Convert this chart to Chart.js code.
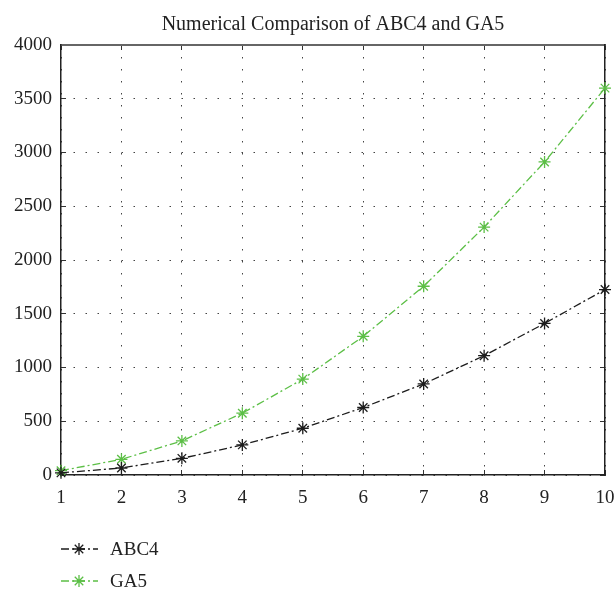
<!DOCTYPE html>
<html>
<head>
<meta charset="utf-8">
<script src="https://cdn.jsdelivr.net/npm/chart.js@4/dist/chart.umd.min.js"></script>
<style>
  html, body { margin: 0; padding: 0; background: #fff; }
  #c { display: block; }
</style>
</head>
<body>
<canvas id="c" width="616" height="594"></canvas>
<script>
// data
const xValues = [1, 2, 3, 4, 5, 6, 7, 8, 9, 10];
const abc4 = [20, 65, 155, 280, 435, 628, 847, 1110, 1410, 1725];
const ga5 = [40, 146, 317, 575, 892, 1290, 1756, 2306, 2912, 3599];
const seriesNames = ["ABC4", "GA5"];
const titleText = "Numerical Comparison of ABC4 and GA5";

const FONT = "'Liberation Serif', 'DejaVu Serif', serif";
const BLACK = "#1c1c1c";
const GREEN = "#5cbf46";
const DASH = [8, 3, 2, 3];

const toPoints = ys => ys.map((y, i) => ({ x: xValues[i], y: y }));

// legend drawn under the plot, stacked like the original
const stackedLegend = {
    id: "stackedLegend",
    afterDraw(chart) {
        const ctx = chart.ctx;
        const rows = [549, 581];
        chart.data.datasets.forEach((ds, i) => {
            const y = rows[i];
            ctx.save();
            ctx.strokeStyle = ds.borderColor;
            ctx.lineWidth = ds.borderWidth;
            ctx.setLineDash(ds.borderDash);
            ctx.beginPath();
            ctx.moveTo(61, y);
            ctx.lineTo(98, y);
            ctx.stroke();
            ctx.setLineDash([]);
            Chart.helpers.drawPoint(ctx, {
                pointStyle: "star",
                radius: ds.pointRadius,
                borderWidth: ds.pointBorderWidth
            }, 79, y);
            ctx.fillStyle = "#222";
            ctx.font = "19px " + FONT;
            ctx.textBaseline = "middle";
            ctx.textAlign = "left";
            ctx.fillText(ds.label, 110, y + 1);
            ctx.restore();
        });
    }
};

const gridStyle = {
    color: "#444",
    lineWidth: 1,
    tickLength: -5,
    tickColor: "#333",
    tickWidth: 1,
    tickBorderDash: []
};
// in v4 border.dash is what dashes the grid lines
const borderStyle = { display: true, color: "#222", width: 1.5, dash: [1.5, 10.5] };
const topBorder = Object.assign({}, borderStyle, { color: "#666", width: 2 });
const tickFont = { family: FONT, size: 19 };
const plain = v => String(v);

new Chart(document.getElementById("c"), {
    type: "line",
    data: {
        datasets: [
            {
                label: seriesNames[0],
                data: toPoints(abc4),
                borderColor: BLACK,
                backgroundColor: BLACK,
                borderWidth: 1.3,
                borderDash: DASH,
                pointStyle: "star",
                pointRadius: 6,
                pointBorderWidth: 1.3,
                pointBorderColor: BLACK,
                tension: 0,
                fill: false,
                clip: false
            },
            {
                label: seriesNames[1],
                data: toPoints(ga5),
                borderColor: GREEN,
                backgroundColor: GREEN,
                borderWidth: 1.3,
                borderDash: DASH,
                pointStyle: "star",
                pointRadius: 6,
                pointBorderWidth: 1.3,
                pointBorderColor: GREEN,
                tension: 0,
                fill: false,
                clip: false
            }
        ]
    },
    options: {
        responsive: false,
        animation: false,
        layout: { padding: 0 },
        scales: {
            x: {
                type: "linear",
                position: "bottom",
                min: 1, max: 10,
                ticks: { stepSize: 1, color: "#222", font: tickFont, padding: 17, maxRotation: 0, callback: plain },
                grid: gridStyle,
                border: borderStyle,
                afterFit: s => { s.height = 119; s.paddingLeft = 8; s.paddingRight = 8; }
            },
            x2: {
                type: "linear",
                position: "top",
                min: 1, max: 10,
                ticks: { stepSize: 1, display: false },
                grid: Object.assign({}, gridStyle, { drawOnChartArea: false }),
                border: topBorder,
                afterFit: s => { s.height = 0; s.paddingLeft = 0; s.paddingRight = 0; }
            },
            y: {
                position: "left",
                min: 0, max: 4000,
                ticks: { stepSize: 500, color: "#222", font: tickFont, padding: 14, callback: plain },
                grid: gridStyle,
                border: borderStyle,
                afterFit: s => { s.width = 61; s.paddingTop = 0; s.paddingBottom = 0; }
            },
            y2: {
                position: "right",
                min: 0, max: 4000,
                ticks: { stepSize: 500, display: false },
                grid: Object.assign({}, gridStyle, { drawOnChartArea: false }),
                border: borderStyle,
                afterFit: s => { s.width = 11; }
            }
        },
        plugins: {
            legend: { display: false },
            tooltip: { enabled: false },
            title: {
                display: true,
                text: titleText,
                fullSize: false,
                color: "#222",
                font: { family: FONT, size: 20, weight: "normal" },
                padding: { top: 13, bottom: 8 }
            }
        }
    },
    plugins: [stackedLegend]
});
</script>
</body>
</html>
